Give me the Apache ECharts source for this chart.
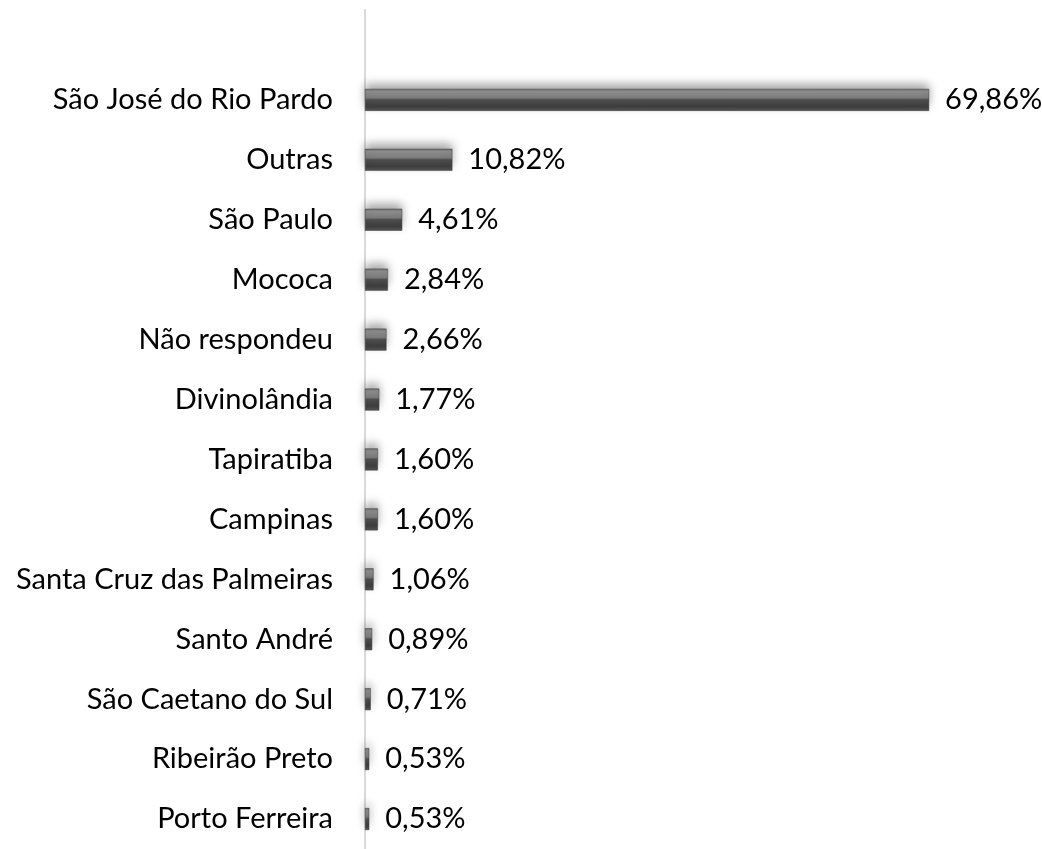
<!DOCTYPE html>
<html><head><meta charset="utf-8">
<script src="https://cdn.jsdelivr.net/npm/echarts@6/dist/echarts.min.js"></script>
<style>html,body{margin:0;padding:0;background:#fff}#c{width:1042px;height:849px}</style>
</head><body><div id="c"></div>
<script>
const categories = ["São José do Rio Pardo","Outras","São Paulo","Mococa","Não respondeu","Divinolândia","Tapiratiba","Campinas","Santa Cruz das Palmeiras","Santo André","São Caetano do Sul","Ribeirão Preto","Porto Ferreira"];
const values = [69.86,10.82,4.61,2.84,2.66,1.77,1.60,1.60,1.06,0.89,0.71,0.53,0.53];

const chart = echarts.init(document.getElementById('c'));
const barColor = new echarts.graphic.LinearGradient(0,0,0,1,[
  {offset:0,color:'#6e6e6e'},{offset:0.12,color:'#8c8c8c'},{offset:0.4,color:'#7c7c7c'},
  {offset:0.5,color:'#4e4e4e'},{offset:0.8,color:'#3e3e3e'},{offset:1,color:'#555'}]);
chart.setOption({
  animation:false,
  grid:{left:365,right:31,top:10,bottom:-11,containLabel:false},
  xAxis:{type:'value',min:0,max:80,show:false},
  yAxis:{type:'category',inverse:true,data:categories,min:-1,
    axisLine:{show:true,lineStyle:{color:'#d9d9d9',width:2}},
    axisTick:{show:false},
    axisLabel:{margin:32,fontSize:29,color:'#000',fontFamily:'Lato'}},
  series:[{type:'bar',data:values,barWidth:22,
    itemStyle:{color:barColor,borderColor:'#3a3a3a',borderWidth:0.5,shadowBlur:10,shadowColor:'rgba(0,0,0,0.35)',shadowOffsetY:-5},
    label:{show:true,position:'right',distance:16,fontSize:29,color:'#000',fontFamily:'Lato',
      formatter:p=>p.value.toFixed(2).replace('.',',')+'%'}}]
});
</script></body></html>
